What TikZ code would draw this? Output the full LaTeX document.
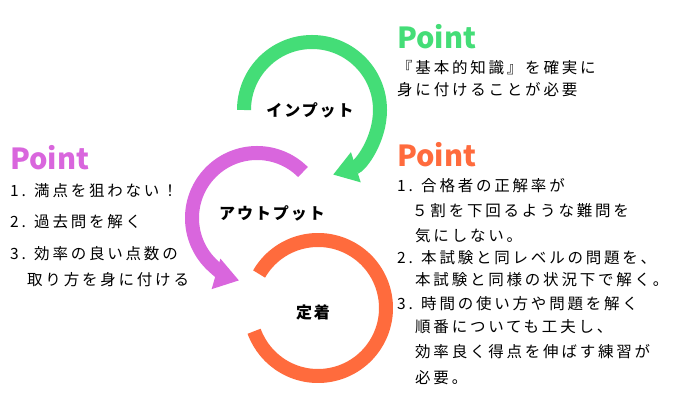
\documentclass[tikz,border=0pt]{standalone}
\usepackage{fontspec}
\setmainfont{Noto Sans CJK JP}
\newfontfamily\jp[LetterSpace=18]{Noto Sans CJK JP}
\newfontfamily\jpb[LetterSpace=12]{Noto Sans CJK JP}
\usetikzlibrary{arrows.meta}
\definecolor{cg}{HTML}{44DD77}
\definecolor{cp}{HTML}{D966DD}
\definecolor{co}{HTML}{FF6B3D}
\begin{document}
\begin{tikzpicture}[x=1pt,y=1pt,
  arcline/.style={line width=14pt},
  tip/.style={-{Triangle[width=30pt,length=24pt]}},
  lbl/.style={font=\jpb\fontsize{16}{18}\selectfont\bfseries},
  pt/.style={font=\fontsize{29}{32}\selectfont\bfseries, anchor=west, inner sep=0},
  tx/.style={font=\jp\fontsize{15.5}{18}\selectfont, anchor=west, inner sep=0}]
\useasboundingbox (0,0) rectangle (680,420);
\fill[white] (0,0) rectangle (680,420);
% arcs
\draw[arcline,cg,tip] (244,310) arc[start angle=180,end angle=-72,radius=68];
\draw[arcline,cp,tip] (257,202) ++(45:65) arc[start angle=45,end angle=254,radius=65];
\draw[arcline,co] (318,112) ++(150:68) arc[start angle=150,end angle=-160,radius=68];
\node[lbl] (in) at (310,310) {インプット};
\node[lbl] (out) at (272,207) {アウトプット};
\node[lbl] (fix) at (313,108) {定着};
% green point
\node[pt,text=cg] (gp) at (397,383) {Point};
\node[tx] (g1) at (397,352) {『基本的知識』を確実に};
\node[tx] (g2) at (397,330) {身に付けることが必要};
% purple point
\node[pt,text=cp] (pp) at (10,262) {Point};
\node[tx] (p1) at (10,229) {1. 満点を狙わない！};
\node[tx] (p2) at (10,198) {2. 過去問を解く};
\node[tx] (p3) at (10,166) {3. 効率の良い点数の};
\node[tx] (p4) at (27,140) {取り方を身に付ける};
% orange point
\node[pt,text=co] (op) at (397,265) {Point};
\node[tx] (o1) at (397,234) {1. 合格者の正解率が};
\node[tx] (o2) at (412,209) {５割を下回るような難問を};
\node[tx] (o3) at (415,184) {気にしない。};
\node[tx] (o4) at (397,162) {2. 本試験と同レベルの問題を、};
\node[tx] (o5) at (415,140) {本試験と同様の状況下で解く。};
\node[tx] (o6) at (397,116) {3. 時間の使い方や問題を解く};
\node[tx] (o7) at (415,93) {順番についても工夫し、};
\node[tx] (o8) at (415,68) {効率良く得点を伸ばす練習が};
\node[tx] (o9) at (415,42) {必要。};
\end{tikzpicture}
\end{document}
